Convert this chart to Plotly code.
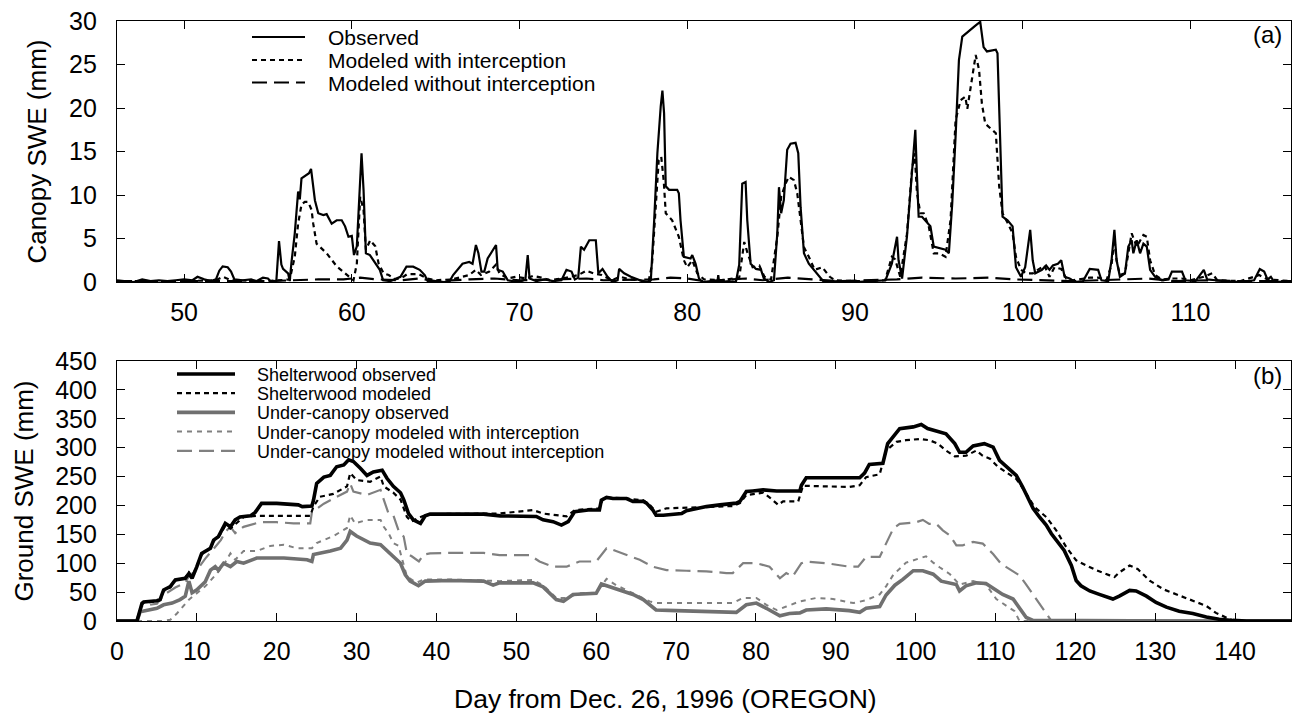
import plotly.graph_objects as go

# ---------------- DATA ----------------
# Panel (a): canopy SWE (mm) vs day
a_obs_day = [46.0, 46.5, 47.0, 47.5, 48.0, 48.5, 49.0, 49.5, 50.0, 50.5, 50.8, 51.2, 51.6, 51.9, 52.1, 52.3, 52.6, 52.8, 53.0, 53.5,
             54.0, 54.3, 54.7, 55.0, 55.2, 55.5, 55.66, 55.8, 55.9, 56.2, 56.3, 56.4, 56.6, 56.8, 56.9, 57.0, 57.3, 57.45, 57.57, 57.8,
             58.0, 58.3, 58.5, 58.8, 59.1, 59.4, 59.6, 59.8, 60.0, 60.13, 60.3, 60.45, 60.58, 60.7, 60.84, 61.08, 61.28, 61.5, 61.67, 61.87,
             62.3, 62.9, 63.26, 63.66, 64.05, 64.35, 64.55, 65.0, 65.5, 65.84, 66.04, 66.6, 67.0, 67.2, 67.4, 67.55, 67.73, 67.9, 68.1, 68.6,
             68.7, 69.0, 69.3, 69.6, 70.0, 70.35, 70.49, 70.6, 71.0, 71.5, 72.0, 72.5, 72.8, 73.1, 73.3, 73.5, 73.66, 73.85, 74.16, 74.55,
             74.7, 74.95, 75.25, 75.55, 75.85, 75.94, 76.24, 76.64, 76.9, 77.3, 77.73, 77.83, 78.03, 78.22, 78.42, 78.52, 78.62, 78.72, 78.92, 79.4,
             79.5, 79.6, 79.8, 80.2, 80.3, 80.5, 80.7, 80.9, 81.4, 81.8, 81.85, 81.9, 82.5, 82.9, 83.1, 83.28, 83.48, 83.58, 83.78, 84.1,
             84.4, 84.57, 84.87, 85.17, 85.37, 85.47, 85.6, 85.76, 85.96, 86.16, 86.46, 86.62, 86.76, 86.96, 87.25, 87.55, 87.95, 88.15, 89.0, 90.0,
             91.0, 91.82, 92.2, 92.51, 92.6, 92.81, 93.1, 93.4, 93.6, 93.7, 93.8, 94.0, 94.3, 94.5, 94.7, 95.0, 95.4, 95.6, 95.8, 96.0,
             96.2, 96.4, 96.7, 96.9, 97.2, 97.47, 97.67, 97.87, 98.4, 98.5, 98.7, 98.8, 99.1, 99.4, 99.6, 99.9, 100.15, 100.45, 100.6, 100.75,
             101.15, 101.4, 101.6, 101.8, 102.1, 102.3, 102.5, 102.8, 103.1, 103.6, 104.0, 104.5, 104.7, 105.1, 105.3, 105.47, 105.6, 105.8, 106.1, 106.3,
             106.5, 106.6, 106.8, 107.0, 107.2, 107.4, 107.6, 107.9, 108.3, 108.7, 108.9, 109.5, 109.7, 110.3, 110.8, 111.0, 111.5, 112.0, 113.0, 113.8,
             114.14, 114.4, 114.6, 114.8, 115.0, 116.0]
a_obs_val = [0.2, 0.1, 0.0, 0.3, 0.1, 0.2, 0.1, 0.2, 0.3, 0.2, 0.6, 0.3, 0.1, 0.3, 1.3, 1.8, 1.7, 1.2, 0.3, 0.2,
             0.3, 0.1, 0.5, 0.4, 0.0, 0.1, 4.7, 2.0, 1.5, 1.0, 0.1, 2.2, 5.6, 10.4, 9.5, 11.9, 12.3, 12.5, 13.0, 9.4,
             7.9, 7.7, 7.8, 6.7, 7.1, 7.1, 6.4, 5.2, 5.3, 3.1, 4.1, 10.0, 14.8, 10.6, 3.3, 3.1, 2.5, 2.0, 1.4, 0.2,
             0.1, 0.6, 1.76, 1.76, 1.4, 0.8, 0.0, 0.1, 0.0, 0.1, 0.8, 2.1, 2.3, 2.1, 4.25, 3.3, 1.2, 1.2, 2.7, 4.25,
             1.4, 1.2, 0.2, 0.1, 0.0, 0.3, 3.1, 0.4, 0.1, 0.3, 0.1, 0.2, 1.4, 1.2, 0.3, 0.5, 4.06, 3.7, 4.8, 4.8,
             1.0, 1.5, 0.6, 0.0, 0.2, 1.5, 1.0, 0.6, 0.4, 0.1, 0.0, 0.2, 7.1, 14.8, 20.2, 22.0, 19.4, 11.0, 10.6, 10.6,
             10.2, 7.1, 2.9, 2.7, 3.1, 2.1, 0.4, 0.0, 0.1, 0.0, 0.8, 0.0, 0.1, 0.0, 2.0, 11.3, 11.5, 7.1, 2.1, 1.5,
             1.4, 0.4, 0.0, 0.2, 5.6, 10.9, 7.9, 9.4, 15.2, 15.9, 16.0, 14.8, 8.6, 3.3, 2.1, 1.4, 0.6, 0.0, 0.1, 0.0,
             0.1, 0.2, 2.1, 5.2, 2.5, 0.4, 5.2, 12.5, 17.5, 12.1, 7.5, 7.5, 6.8, 6.4, 4.06, 3.9, 3.7, 3.3, 9.0, 16.7,
             25.5, 28.2, 28.7, 29.1, 29.5, 29.9, 27.0, 26.5, 26.7, 26.3, 14.8, 7.5, 7.1, 6.4, 1.7, 0.6, 1.7, 6.0, 2.5, 1.0,
             1.4, 1.9, 1.4, 1.9, 2.1, 2.5, 0.6, 0.4, 0.0, 0.1, 1.5, 1.4, 0.2, 0.1, 2.5, 6.0, 2.5, 0.6, 1.0, 4.06,
             4.8, 3.3, 4.8, 3.3, 4.4, 4.06, 1.4, 0.6, 0.2, 0.3, 1.2, 1.2, 0.2, 0.1, 1.4, 0.3, 0.2, 0.1, 0.0, 0.2,
             1.5, 1.2, 0.3, 0.6, 0.0, 0.1]

a_int_day = [46.0, 48.0, 50.0, 51.9, 52.3, 52.8, 55.0, 56.3, 56.6, 56.8, 57.0, 57.2, 57.4, 57.6, 57.7, 57.9, 58.5, 59.1, 59.7, 60.1,
             60.3, 60.5, 60.7, 60.84, 61.1, 61.4, 61.6, 61.9, 62.2, 62.6, 63.0, 63.3, 64.0, 64.5, 65.0, 66.0, 66.6, 67.0, 67.4, 67.7,
             68.2, 68.6, 68.8, 69.3, 69.8, 70.4, 70.8, 71.3, 71.8, 72.8, 73.5, 74.0, 74.4, 74.9, 75.5, 76.0, 76.6, 77.7, 77.9, 78.1,
             78.3, 78.45, 78.6, 78.72, 78.9, 79.1, 79.5, 79.8, 80.0, 80.3, 80.6, 81.0, 82.0, 83.1, 83.4, 83.6, 83.9, 84.3, 84.6, 85.0,
             85.37, 85.6, 85.86, 86.06, 86.36, 86.56, 86.76, 86.96, 87.25, 87.6, 88.05, 88.5, 88.8, 90.0, 91.8, 92.2, 92.4, 92.7, 93.1, 93.4,
             93.56, 93.7, 93.9, 94.1, 94.4, 94.7, 95.0, 95.4, 95.7, 96.0, 96.3, 96.58, 96.7, 96.98, 97.2, 97.4, 97.57, 97.77, 98.07, 98.4,
             98.6, 98.8, 99.1, 99.4, 99.6, 99.9, 100.2, 100.6, 100.9, 101.3, 101.6, 101.9, 102.3, 102.6, 103.0, 104.0, 104.5, 105.0, 105.3, 105.47,
             105.6, 105.8, 106.1, 106.3, 106.5, 106.8, 107.2, 107.4, 107.6, 107.9, 108.3, 109.0, 109.5, 110.0, 110.8, 111.3, 111.6, 113.0, 114.1, 114.6,
             116.0]
a_int_val = [0.1, 0.1, 0.1, 0.2, 0.6, 0.2, 0.1, 0.3, 2.9, 6.7, 8.9, 9.2, 9.2, 8.3, 6.7, 4.4, 3.3, 1.8, 0.8, 0.2,
             2.1, 9.8, 8.3, 3.7, 4.8, 4.1, 2.1, 1.0, 0.8, 0.3, 0.5, 0.9, 0.9, 0.4, 0.2, 0.3, 0.6, 0.8, 1.4, 0.8,
             1.2, 2.0, 1.0, 0.4, 0.6, 0.4, 0.7, 0.5, 0.2, 0.5, 0.8, 1.3, 1.0, 0.8, 0.2, 0.6, 0.3, 0.1, 2.0, 8.0,
             14.0, 14.4, 11.6, 7.9, 7.5, 7.1, 5.2, 2.5, 1.7, 2.5, 1.0, 0.3, 0.2, 0.5, 4.6, 3.3, 1.7, 1.9, 0.6, 0.3,
             5.2, 9.8, 11.3, 12.1, 11.7, 10.2, 7.1, 4.0, 2.9, 1.4, 1.7, 0.6, 0.2, 0.1, 0.2, 2.9, 2.6, 0.6, 5.5, 12.9,
             14.8, 10.2, 7.9, 7.9, 6.4, 3.3, 3.3, 2.9, 7.1, 18.6, 20.9, 21.3, 19.9, 23.6, 26.1, 24.4, 20.5, 18.2, 17.7, 17.1,
             11.0, 7.9, 6.8, 5.6, 2.9, 1.4, 1.0, 1.0, 1.4, 1.9, 0.6, 1.7, 1.5, 0.4, 0.2, 0.5, 0.5, 0.2, 2.0, 5.0,
             2.5, 0.8, 1.0, 3.3, 5.6, 4.06, 5.4, 5.2, 2.5, 0.8, 0.3, 0.4, 0.4, 0.2, 0.6, 1.0, 0.2, 0.1, 0.8, 0.3,
             0.1]

a_noint_day = [46.0, 50.0, 55.0, 56.5, 58.0, 59.5, 60.5, 61.5, 63.0, 64.0, 65.0, 67.0, 68.5, 70.0, 74.0, 75.0, 78.0, 79.0, 80.0, 81.0,
               83.5, 84.5, 86.0, 87.5, 89.0, 92.5, 94.0, 96.0, 98.0, 99.5, 101.0, 103.0, 106.0, 107.5, 109.0, 111.0, 113.0, 116.0]
a_noint_val = [0.1, 0.1, 0.1, 0.2, 0.3, 0.3, 0.5, 0.3, 0.2, 0.4, 0.1, 0.3, 0.4, 0.2, 0.4, 0.2, 0.3, 0.5, 0.4, 0.1,
               0.4, 0.2, 0.5, 0.3, 0.1, 0.3, 0.5, 0.4, 0.5, 0.3, 0.2, 0.1, 0.3, 0.4, 0.1, 0.2, 0.1, 0.1]

# Panel (b): ground SWE (mm) vs day
sw_obs_day = [0, 2.5, 3.13, 3.34, 5.0, 5.4, 5.84, 6.67, 7.3, 8.55, 9.0, 9.4, 10.0, 10.6, 11.7, 12.1, 12.7, 13.56, 14.2, 14.8,
              15.4, 16.7, 17.3, 18.1, 20.0, 21.7, 22.7, 23.2, 24.4, 24.6, 25.0, 25.9, 26.7, 27.5, 28.4, 29.0, 29.6, 30.5, 31.3, 32.1,
              33.2, 33.8, 34.6, 35.5, 35.9, 36.5, 37.1, 38.0, 38.6, 39.2, 41.7, 45.9, 48.0, 50.4, 52.5, 53.35, 54.6, 55.65, 56.5, 57.3,
              59.0, 60.4, 60.65, 61.3, 62.1, 63.8, 64.6, 65.9, 66.3, 67.1, 67.5, 68.4, 70.7, 71.3, 73.8, 75.5, 77.55, 78.0, 78.8, 79.6,
              80.9, 82.6, 85.5, 85.7, 86.3, 89.65, 93.0, 93.6, 94.2, 95.9, 96.5, 97.2, 98.0, 99.7, 100.7, 101.5, 102.6, 103.8, 104.9, 105.5,
              106.3, 107.2, 108.6, 109.7, 110.5, 111.6, 112.6, 113.4, 114.7, 115.5, 116.35, 117.0, 118.0, 118.6, 119.5, 120.1, 120.7, 121.8, 123.0, 124.7,
              125.5, 126.8, 127.6, 128.9, 130.1, 131.4, 133.0, 134.7, 136.4, 138.0, 139.7, 141.4, 147.0]
sw_obs_val = [0, 0, 30.6, 33, 35, 37, 53.7, 59.4, 71, 73.9, 82, 74, 94, 117, 126, 140, 146, 169, 163, 175,
              180, 182, 188, 203.6, 203.6, 202, 201, 198, 199, 209, 238, 249, 252, 267, 270, 279, 276, 264, 252, 258,
              261, 247, 233, 222, 210, 186, 175, 169, 182, 185, 185, 185, 182, 181, 181, 175, 172, 166, 172, 189,
              192, 192, 209, 214, 212, 212, 207, 207, 204, 192, 183, 183, 186, 191, 198, 201, 204, 207, 224, 225,
              227, 225, 225, 235, 248, 248, 248, 256, 271, 273, 307, 319, 333, 336, 340, 333, 329, 324, 307, 292,
              292, 303, 307, 301, 278, 264, 252, 232, 195, 180, 166, 151, 134, 122, 96, 70, 61, 52, 46, 38,
              43, 53, 52, 43, 32, 24, 17, 13, 7, 3, 1, 0, 0]

sw_mod_day = [0, 2.5, 3.13, 3.34, 5.0, 5.4, 5.84, 6.67, 7.3, 8.55, 9.0, 9.4, 10.0, 10.6, 11.7, 12.1, 12.7, 13.56, 14.2, 15.0,
              15.85, 17.5, 24.2, 24.6, 25.4, 27.1, 28.8, 29.2, 30.0, 31.7, 33.0, 33.4, 34.6, 35.5, 36.3, 36.9, 37.5, 38.4, 39.2, 47.9,
              52.1, 53.35, 56.3, 57.3, 60.4, 60.9, 63.8, 65.9, 66.7, 67.5, 68.8, 73.0, 77.1, 78.0, 78.8, 80.9, 81.7, 82.8, 83.4, 85.3,
              85.9, 91.7, 93.0, 93.8, 95.5, 96.3, 97.6, 98.8, 100.5, 101.7, 102.8, 103.8, 104.9, 106.3, 107.6, 108.4, 109.3, 110.3, 111.6, 112.6,
              113.6, 114.9, 116.35, 117.6, 118.85, 120.1, 121.4, 122.6, 124.3, 124.9, 125.5, 126.8, 127.8, 129.3, 131.0, 132.6, 134.7, 136.4, 137.6, 138.9,
              139.7, 141.0, 147.0]
sw_mod_val = [0, 0, 28, 32, 34, 36, 52, 58, 70, 75, 84, 76, 96, 115, 127, 138, 145, 165, 160, 169,
              180, 182, 182, 198, 215, 220, 233, 256, 244, 241, 250, 233, 222, 210, 180, 172, 177, 182, 185, 186,
              192, 186, 181, 192, 195, 214, 212, 209, 201, 189, 195, 197, 199, 204, 218, 222, 214, 201, 207, 207,
              234, 232, 235, 249, 254, 295, 310, 313, 315, 313, 307, 295, 285, 286, 295, 286, 281, 267, 255, 246,
              226, 197, 180, 157, 128, 105, 96, 88, 79, 76, 84, 96, 90, 70, 55, 46, 35, 26, 14, 6,
              1, 0, 0]

uc_obs_day = [0, 2.5, 2.9, 4.2, 5.0, 5.84, 6.9, 7.9, 8.55, 9.0, 9.4, 10.0, 11.05, 11.7, 12.3, 12.7, 13.35, 14.2, 15.0, 15.85,
              17.5, 20.9, 23.8, 24.4, 24.6, 26.7, 28.0, 28.8, 29.2, 30.0, 31.7, 33.0, 34.6, 35.5, 36.1, 36.7, 37.75, 38.6, 41.7, 45.9,
              47.1, 47.9, 52.1, 53.35, 55.0, 55.9, 57.1, 60.0, 60.65, 61.7, 64.6, 65.9, 67.5, 70.0, 73.0, 76.3, 77.55, 78.8, 80.05, 81.3,
              83.0, 84.2, 85.5, 86.3, 88.8, 91.7, 93.0, 93.8, 95.5, 96.3, 97.4, 98.4, 99.7, 100.9, 102.2, 103.2, 105.1, 105.5, 106.3, 107.6,
              108.8, 109.9, 110.9, 112.2, 113.0, 113.85, 114.7, 120.0, 125.0, 126.0, 127.0, 147.0]
uc_obs_val = [0, 0, 16, 19, 22, 28, 31, 37, 43, 69, 49, 54, 68, 88, 94, 88, 100, 94, 103, 100,
              109, 109, 106, 103, 115, 121, 126, 140, 155, 147, 135, 132, 112, 100, 80, 69, 61, 69, 70, 69,
              62, 66, 66, 59, 37, 34, 46, 48, 64, 59, 46, 37, 19, 18, 17, 16, 15, 28, 31, 22,
              9, 13, 14, 19, 21, 18, 15, 22, 25, 45, 62, 72, 87, 87, 81, 69, 63, 52, 61, 66,
              65, 55, 46, 38, 23, 6, 1, 1, 2, 2, 0.5, 0]

uc_int_day = [0, 5.5, 6.67, 7.5, 9.0, 10.0, 11.05, 12.5, 13.35, 14.2, 14.8, 15.85, 17.5, 19.2, 20.9, 22.5, 24.4, 25.0, 27.1, 28.8,
              29.2, 29.8, 31.3, 33.0, 33.4, 34.0, 34.6, 35.25, 35.9, 36.3, 37.5, 38.4, 41.7, 47.9, 52.1, 53.35, 55.0, 56.3, 57.9, 60.0,
              61.3, 62.5, 64.6, 66.7, 67.5, 70.0, 73.8, 77.1, 78.4, 80.05, 81.3, 82.6, 83.8, 85.5, 87.6, 89.65, 92.2, 93.8, 95.5, 96.3,
              97.2, 98.0, 98.8, 101.3, 102.2, 103.0, 104.3, 105.5, 107.2, 108.8, 110.1, 111.4, 112.4, 113.0, 147.0]
uc_int_val = [0, 0, 2, 13, 37, 49, 60, 82, 97, 117, 106, 121, 121, 130, 132, 126, 126, 135, 147, 161,
              183, 169, 175, 175, 163, 152, 135, 130, 100, 77, 66, 72, 72, 69, 71, 62, 40, 40, 48, 49,
              73, 62, 48, 34, 31, 31, 32, 31, 40, 40, 28, 19, 25, 34, 40, 38, 31, 36, 46, 60,
              80, 90, 101, 112, 101, 93, 81, 63, 69, 63, 38, 26, 17, 0, 0]

uc_noint_day = [0, 2.5, 3.13, 5.0, 5.84, 7.3, 8.55, 9.0, 10.0, 11.05, 12.1, 13.0, 13.6, 14.2, 14.8, 15.85, 17.9, 20.0, 22.1, 24.2,
                24.4, 25.9, 27.5, 28.8, 29.2, 29.6, 31.3, 33.0, 33.4, 34.0, 34.6, 35.25, 35.9, 36.3, 36.9, 37.8, 38.4, 39.2, 41.7, 45.9,
                47.9, 51.7, 52.9, 54.6, 56.3, 57.9, 60.0, 61.3, 62.1, 63.8, 65.45, 67.1, 68.8, 71.3, 73.8, 76.3, 77.1, 78.4, 80.05, 81.7,
                83.0, 83.8, 84.6, 85.7, 86.3, 88.8, 91.7, 92.8, 93.8, 95.5, 96.3, 97.2, 98.0, 100.1, 100.9, 101.7, 102.6, 103.4, 104.3, 105.1,
                105.9, 107.2, 108.4, 109.7, 110.7, 111.8, 113.0, 113.8, 114.7, 115.5, 116.1, 116.6, 117.0]
uc_noint_val = [0, 0, 26, 30, 45, 58, 66, 78, 88, 108, 125, 140, 155, 163, 152, 163, 171, 171, 169, 169,
                188, 203, 215, 224, 238, 224, 218, 227, 210, 186, 183, 157, 146, 117, 112, 103, 115, 117, 118, 118,
                114, 114, 103, 94, 94, 103, 103, 126, 123, 114, 106, 94, 88, 87, 86, 83, 83, 100, 100, 94,
                74, 83, 77, 100, 103, 100, 94, 94, 111, 111, 134, 160, 168, 171, 175, 168, 168, 157, 148, 131,
                131, 137, 134, 116, 99, 90, 79, 64, 46, 29, 17, 6, 0]

legend_a = ["Observed", "Modeled with interception", "Modeled without interception"]
legend_b = ["Shelterwood observed", "Shelterwood modeled", "Under-canopy observed",
            "Under-canopy modeled with interception", "Under-canopy modeled without interception"]

# ---------------- STYLE ----------------
FONT = "Liberation Sans, Arial, Helvetica, sans-serif"
BLACK = "#000000"
GRAY = "#707070"
LGRAY = "#808080"

W, H = 1293, 716
ML, MR, MT, MB = 117, 2, 21, 95
PW, PH = W - ML - MR, H - MT - MB


def pxx(px):
    return (px - ML) / PW


def pxy(py):
    return (H - MB - py) / PH


styles_a = [dict(color=BLACK, width=2.2, dash="solid"),
            dict(color=BLACK, width=2.2, dash="5px,4px"),
            dict(color=BLACK, width=2.2, dash="15px,7px")]
styles_b = [dict(color=BLACK, width=3.6, dash="solid"),
            dict(color=BLACK, width=2.2, dash="5px,4px"),
            dict(color=GRAY, width=3.6, dash="solid"),
            dict(color=LGRAY, width=2.0, dash="5px,5px"),
            dict(color=LGRAY, width=2.2, dash="15px,7px")]

fig = go.Figure()
series_a = [(a_obs_day, a_obs_val), (a_int_day, a_int_val), (a_noint_day, a_noint_val)]
for (d, v), name, st in zip(series_a, legend_a, styles_a):
    fig.add_trace(go.Scatter(x=d, y=v, mode="lines", name=name, line=st,
                             xaxis="x", yaxis="y", showlegend=False))

series_b = [(sw_obs_day, sw_obs_val), (sw_mod_day, sw_mod_val), (uc_obs_day, uc_obs_val),
            (uc_int_day, uc_int_val), (uc_noint_day, uc_noint_val)]
order_b = [4, 3, 2, 1, 0]  # draw black on top
for i in order_b:
    (d, v), name, st = series_b[i], legend_b[i], styles_b[i]
    fig.add_trace(go.Scatter(x=d, y=v, mode="lines", name=name, line=st,
                             xaxis="x2", yaxis="y2", showlegend=False))

axis_common = dict(showline=True, linecolor=BLACK, linewidth=1.3, mirror="ticks",
                   ticks="inside", ticklen=8, tickwidth=1.3, tickcolor=BLACK,
                   showgrid=False, zeroline=False,
                   tickfont=dict(family=FONT, size=25, color=BLACK))

top_dom = [pxy(282), 1.0]
bot_dom = [0.0, pxy(361)]

fig.update_layout(
    width=W, height=H,
    margin=dict(l=ML, r=MR, t=MT, b=MB),
    paper_bgcolor="white", plot_bgcolor="white",
    showlegend=False,
    xaxis=dict(axis_common, domain=[0, 1], range=[46, 116], tickvals=[50, 60, 70, 80, 90, 100, 110],
               anchor="y", ticklabelstandoff=8),
    yaxis=dict(axis_common, domain=top_dom, range=[0, 30], tickvals=[0, 5, 10, 15, 20, 25, 30],
               anchor="x", ticklabelstandoff=14,
               title=dict(text="Canopy SWE (mm)", font=dict(family=FONT, size=26, color=BLACK), standoff=14)),
    xaxis2=dict(axis_common, domain=[0, 1], range=[0, 147], tickvals=list(range(0, 141, 10)),
                anchor="y2", ticklabelstandoff=8),
    yaxis2=dict(axis_common, domain=bot_dom, range=[0, 450], tickvals=list(range(0, 451, 50)),
                anchor="x2", ticklabelstandoff=14,
                title=dict(text="Ground SWE (mm)", font=dict(family=FONT, size=26, color=BLACK), standoff=14)),
)

shapes = []
annotations = []
# legend (a)
rows_a = [37, 60, 82.5]
for name, st, ry in zip(legend_a, styles_a, rows_a):
    shapes.append(dict(type="line", xref="paper", yref="paper",
                       x0=pxx(252), x1=pxx(305), y0=pxy(ry), y1=pxy(ry),
                       line=dict(color=st["color"], width=st["width"], dash=st["dash"])))
    annotations.append(dict(text=name, xref="paper", yref="paper", x=pxx(326), y=pxy(ry + 1),
                            xanchor="left", yanchor="middle", showarrow=False,
                            font=dict(family=FONT, size=21, color=BLACK)))
# legend (b)
rows_b = [374, 393.2, 412.4, 431.6, 450.8]
for name, st, ry in zip(legend_b, styles_b, rows_b):
    shapes.append(dict(type="line", xref="paper", yref="paper",
                       x0=pxx(177), x1=pxx(235), y0=pxy(ry), y1=pxy(ry),
                       line=dict(color=st["color"], width=st["width"], dash=st["dash"])))
    annotations.append(dict(text=name, xref="paper", yref="paper", x=pxx(255), y=pxy(ry + 1),
                            xanchor="left", yanchor="middle", showarrow=False,
                            font=dict(family=FONT, size=18, color=BLACK)))

annotations.append(dict(text="(a)", xref="paper", yref="paper", x=pxx(1284), y=pxy(35),
                        xanchor="right", yanchor="middle", showarrow=False,
                        font=dict(family=FONT, size=24, color=BLACK)))
annotations.append(dict(text="(b)", xref="paper", yref="paper", x=pxx(1284), y=pxy(375),
                        xanchor="right", yanchor="middle", showarrow=False,
                        font=dict(family=FONT, size=24, color=BLACK)))
annotations.append(dict(text="Day from Dec. 26, 1996 (OREGON)", xref="paper", yref="paper",
                        x=pxx(665), y=pxy(699), xanchor="center", yanchor="middle", showarrow=False,
                        font=dict(family=FONT, size=26.5, color=BLACK)))

fig.update_layout(shapes=shapes, annotations=annotations)

fig.write_html("out.html")
